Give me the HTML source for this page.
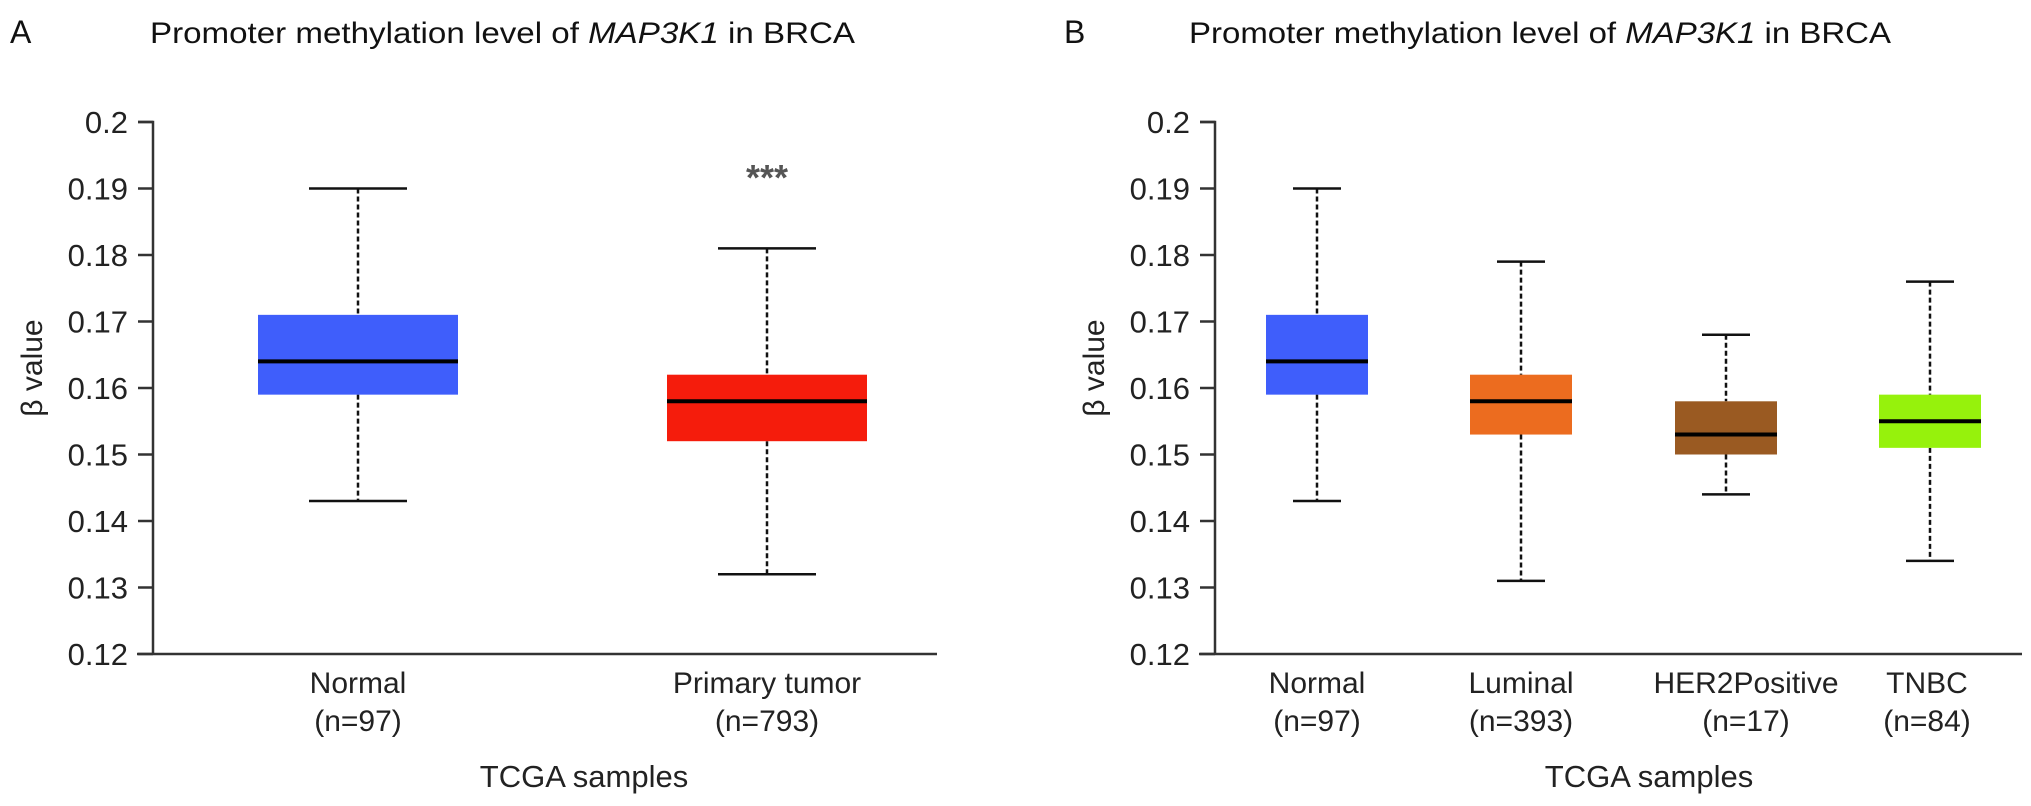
<!DOCTYPE html>
<html><head><meta charset="utf-8"><style>
html,body{margin:0;padding:0;background:#fff;}
svg{display:block;font-family:"Liberation Sans",Arial,sans-serif;}
</style></head><body>
<svg id="fig" width="2031" height="806" viewBox="0 0 2031 806" xmlns="http://www.w3.org/2000/svg">
<g id="panelA"></g>
<g id="panelB"></g>
</svg>
<script>
// ---- data: panel A ----
const catsA = ["Normal","Primary tumor"];
const nA = ["(n=97)","(n=793)"];
const whiHiA = [0.190,0.181];
const q3A = [0.171,0.162];
const medA = [0.164,0.158];
const q1A = [0.159,0.152];
const whiLoA = [0.143,0.132];
const colA = ["#3f5efb","#f51c0c"];
// ---- data: panel B ----
const catsB = ["Normal","Luminal","HER2Positive","TNBC"];
const nB = ["(n=97)","(n=393)","(n=17)","(n=84)"];
const whiHiB = [0.190,0.179,0.168,0.176];
const q3B = [0.171,0.162,0.158,0.159];
const medB = [0.164,0.158,0.153,0.155];
const q1B = [0.159,0.153,0.150,0.151];
const whiLoB = [0.143,0.131,0.144,0.134];
const colB = ["#3f5efb","#ec6c1f","#9a5a22","#96f20c"];
const yTicks = [0.12,0.13,0.14,0.15,0.16,0.17,0.18,0.19,0.2];
const yTickLabels = ["0.12","0.13","0.14","0.15","0.16","0.17","0.18","0.19","0.2"];

const NS="http://www.w3.org/2000/svg";
function mk(parent,tag,attrs,text){
  const e=document.createElementNS(NS,tag);
  for(const k in attrs) e.setAttribute(k,attrs[k]);
  if(text!==undefined) e.textContent=text;
  parent.appendChild(e); return e;
}
const Y0=122, Y1=654, VMIN=0.12, VMAX=0.2;
function yS(v){return Y0+(VMAX-v)/(VMAX-VMIN)*(Y1-Y0);}

function panel(g,cfg){
  // letter
  const L=mk(g,'text',{x:cfg.letterX,y:43,'font-size':32,fill:'#111'},cfg.letter);
  
  
  // title
  const t=mk(g,'text',{x:cfg.titleX,y:43,'font-size':30,fill:'#111',textLength:cfg.titleW,lengthAdjust:'spacingAndGlyphs'});
  
  
  mk(t,'tspan',{},'Promoter methylation level of ');
  mk(t,'tspan',{'font-style':'italic'},'MAP3K1');
  mk(t,'tspan',{},' in BRCA');
  // axes
  const ya=mk(g,'path',{d:`M${cfg.ax-15},${Y0} H${cfg.ax} V${Y1}`,stroke:'#333','stroke-width':2.5,fill:'none'});
  
  
  const xa=mk(g,'line',{x1:cfg.xStart,x2:cfg.xEnd,y1:Y1,y2:Y1,stroke:'#333','stroke-width':2.5});
  
  
  yTicks.forEach((v,i)=>{
    const y=yS(v);
    const tk=mk(g,'line',{x1:cfg.ax-15,x2:cfg.ax,y1:y,y2:y,stroke:'#333','stroke-width':2.5});
    
    
    const tl=mk(g,'text',{x:cfg.ax-25,y:y+11,'font-size':31,'text-anchor':'end',fill:'#222'},yTickLabels[i]);
    
    
  });
  const yt=mk(g,'text',{x:0,y:0,'font-size':30,'text-anchor':'middle',fill:'#222',transform:`translate(${cfg.ax-111},${yS(0.163)}) rotate(-90)`},'β value');
  
  
  cfg.cats.forEach((c,i)=>{
    const cx=cfg.cx[i], hw=cfg.boxHalf, ch=cfg.capHalf;
    const grp=mk(g,'g',{});
    
    
    mk(grp,'line',{x1:cx,x2:cx,y1:yS(cfg.hi[i]),y2:yS(cfg.q3[i]),stroke:'#111','stroke-width':2.5,'stroke-dasharray':'5,3'});
    mk(grp,'line',{x1:cx,x2:cx,y1:yS(cfg.q1[i]),y2:yS(cfg.lo[i]),stroke:'#111','stroke-width':2.5,'stroke-dasharray':'5,3'});
    mk(grp,'line',{x1:cx-ch,x2:cx+ch,y1:yS(cfg.hi[i]),y2:yS(cfg.hi[i]),stroke:'#111','stroke-width':2.5});
    mk(grp,'line',{x1:cx-ch,x2:cx+ch,y1:yS(cfg.lo[i]),y2:yS(cfg.lo[i]),stroke:'#111','stroke-width':2.5});
    mk(grp,'rect',{x:cx-hw,y:yS(cfg.q3[i]),width:2*hw,height:yS(cfg.q1[i])-yS(cfg.q3[i]),fill:cfg.col[i]});
    mk(grp,'line',{x1:cx-hw,x2:cx+hw,y1:yS(cfg.med[i]),y2:yS(cfg.med[i]),stroke:'#000','stroke-width':4});
    const lx=cx+(cfg.lblOff?cfg.lblOff[i]:0);
    const xl=mk(g,'text',{x:lx,y:693,'font-size':30,'text-anchor':'middle',fill:'#222'},c);
    
    
    const nl=mk(g,'text',{x:lx,y:731,'font-size':30,'text-anchor':'middle',fill:'#222'},cfg.n[i]);
    
    
  });
  const xt=mk(g,'text',{x:cfg.xTitleX,y:787,'font-size':31,'text-anchor':'middle',fill:'#222'},'TCGA samples');
  
  
}
const gA=document.getElementById('panelA');
panel(gA,{letter:'A',letterX:10,titleX:150,titleW:705,ax:153,xStart:137,xEnd:937,
  cats:catsA,n:nA,hi:whiHiA,q3:q3A,med:medA,q1:q1A,lo:whiLoA,col:colA,
  cx:[358,767],boxHalf:100,capHalf:49,xTitleX:584});
const star=mk(gA,'text',{x:767,y:190,'font-size':36,'text-anchor':'middle',fill:'#555','font-weight':'bold'},'***');


panel(document.getElementById('panelB'),{letter:'B',letterX:1064,titleX:1189,titleW:702,ax:1215,xStart:1199,xEnd:2022,
  cats:catsB,n:nB,hi:whiHiB,q3:q3B,med:medB,q1:q1B,lo:whiLoB,col:colB,
  cx:[1317,1521,1726,1930],lblOff:[0,0,20,-3],boxHalf:51,capHalf:24,xTitleX:1649});
</script>
</body></html>
